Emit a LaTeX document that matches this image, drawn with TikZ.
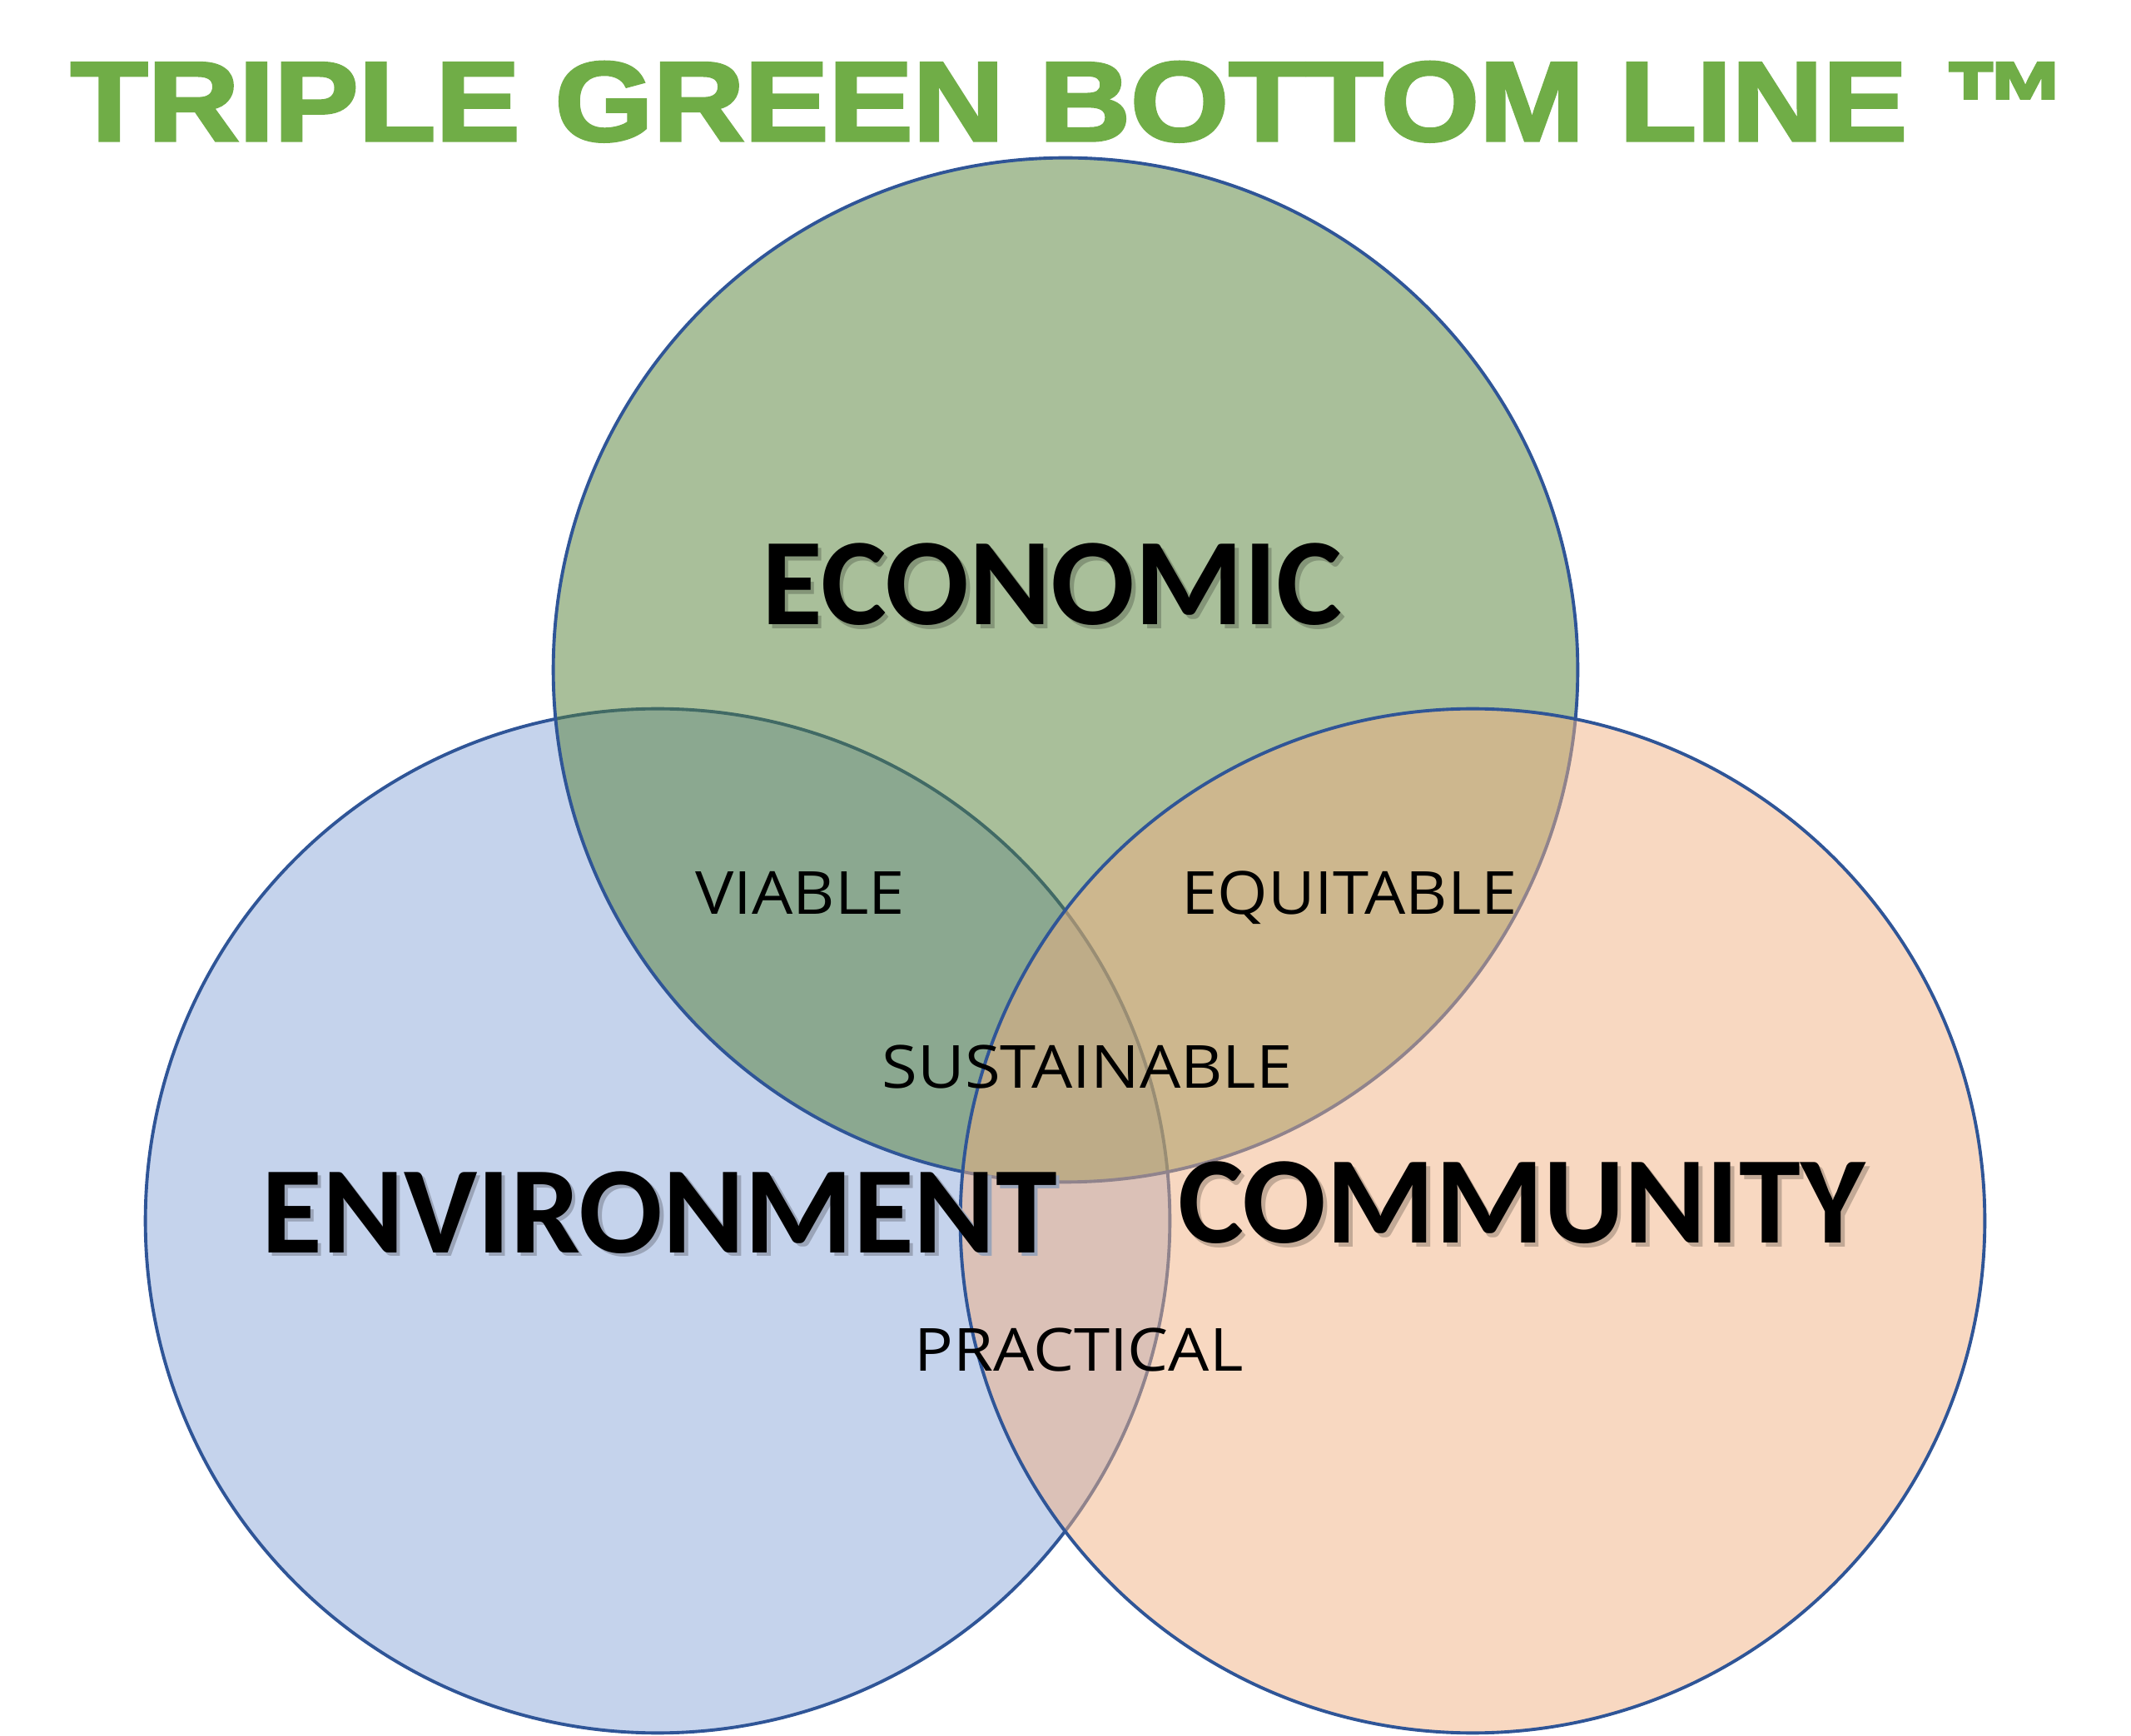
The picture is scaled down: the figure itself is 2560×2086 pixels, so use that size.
\documentclass[tikz,border=0pt]{standalone}
\usepackage{fontspec}
\setmainfont{Liberation Sans}
\newfontfamily\titlefont[FakeBold=2.5]{Liberation Sans Bold}
\newfontfamily\labelfont{Carlito}
\newfontfamily\handfont{Open Sans}
\usetikzlibrary{positioning}

\definecolor{titlegreen}{HTML}{70AD47}
\definecolor{rimblue}{HTML}{2F5597}
\definecolor{econfill}{RGB}{83,127,53}
\definecolor{envfill}{RGB}{139,167,217}
\definecolor{commfill}{RGB}{241,177,131}
\definecolor{econshade}{HTML}{A9BF9A}
\definecolor{envshade}{HTML}{C5D3EC}
\definecolor{commshade}{HTML}{F8D8C1}

% text with a soft drop shadow behind it
\newcommand{\shadowtext}[2]{\leavevmode\rlap{\kern1.3pt\raisebox{-1.3pt}{\textcolor{#1}{#2}}}#2}

\begin{document}
\begin{tikzpicture}[x=0.01cm,y=-0.01cm,
  set node/.style={circle,draw=rimblue,line width=1.1pt,fill opacity=0.5,draw opacity=1,
    minimum size=12.3cm,inner sep=0pt},
  big label/.style={anchor=base,inner sep=0pt,font=\labelfont\bfseries\fontsize{42.4}{48}\selectfont},
  small label/.style={anchor=base,inner sep=0pt,xscale=1.09,font=\handfont\fontsize{20.3}{24}\selectfont}]

  \useasboundingbox (0,0) rectangle (2560,2086);

  \node[anchor=base,inner sep=0pt,xscale=1.118,text=titlegreen,
    font=\titlefont\fontsize{38.6}{44}\selectfont] (title) at (1285,169) {TRIPLE GREEN BOTTOM LINE ™};

  \node[set node,fill=envfill] (env) at (790,1467) {};
  \node[set node,fill=econfill] (econ) at (1280,805) {};
  \node[set node,fill=commfill] (comm) at (1769,1467) {};

  \node[big label] (economic) at (1264,751) {\shadowtext{econshade!78!black}{ECONOMIC}};
  \node[big label] (environment) at (792,1505) {\shadowtext{envshade!78!black}{ENVIRONMENT}};
  \node[big label] (community) at (1828,1494) {\shadowtext{commshade!78!black}{COMMUNITY}};

  \node[small label] (viable) at (961,1099) {VIABLE};
  \node[small label] (equitable) at (1621,1099) {EQUITABLE};
  \node[small label] (sustainable) at (1306,1308) {SUSTAINABLE};
  \node[small label] (practical) at (1296,1647) {PRACTICAL};
\end{tikzpicture}
\end{document}
